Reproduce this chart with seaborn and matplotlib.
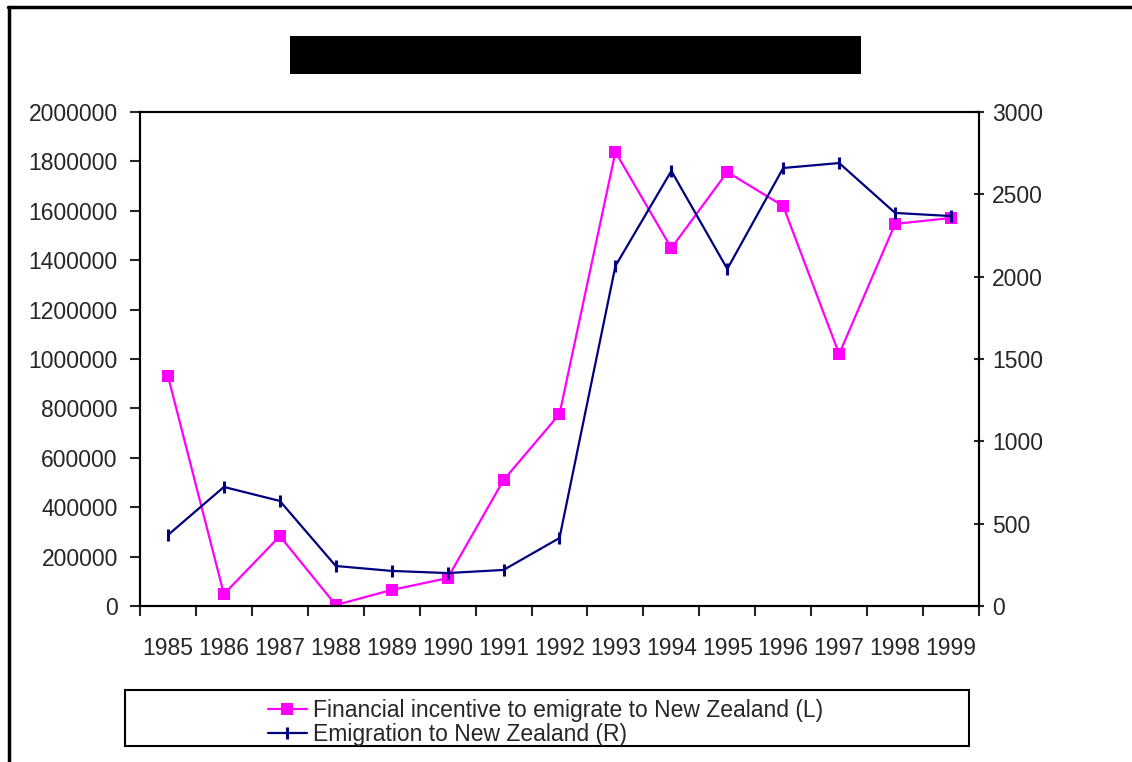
import matplotlib
matplotlib.use("Agg")
import matplotlib.pyplot as plt
import seaborn as sns
import pandas as pd
from matplotlib.patches import Rectangle
from matplotlib.lines import Line2D

years = [1985, 1986, 1987, 1988, 1989, 1990, 1991, 1992,
         1993, 1994, 1995, 1996, 1997, 1998, 1999]
incentive = [931000, 48000, 283000, 4000, 65000, 113000, 510000, 777000,
             1838000, 1449000, 1757000, 1619000, 1020000, 1547000, 1571000]
emigration = [431, 723, 638, 243, 213, 200, 219, 413,
              2065, 2642, 2047, 2660, 2690, 2387, 2368]

lab_l = 'Financial incentive to emigrate to New Zealand (L)'
lab_r = 'Emigration to New Zealand (R)'

df = pd.DataFrame({'year': years, 'incentive': incentive, 'emigration': emigration})

sns.set_style('ticks')
plt.rcParams['font.family'] = ['Liberation Sans', 'DejaVu Sans']

fig = plt.figure(figsize=(11.32, 7.62), dpi=100)
ax = fig.add_axes([140/1132, 1-606/762, 839/1132, 494/762])
ax2 = ax.twinx()

sns.lineplot(data=df, x='year', y='incentive', ax=ax, color='#FF00FF',
             marker='s', markersize=9, markeredgewidth=0, markeredgecolor='#FF00FF',
             linewidth=1.6, legend=False)
sns.lineplot(data=df, x='year', y='emigration', ax=ax2, color='#000080',
             marker='|', markersize=9, markeredgewidth=2.2, markeredgecolor='#000080',
             linewidth=1.6, legend=False)

ax.set_xlim(1984.5, 1999.5)
ax.set_ylim(0, 2000000)
ax2.set_ylim(0, 3000)
ax.set_yticks(range(0, 2000001, 200000))
ax.set_yticklabels([str(v) for v in range(0, 2000001, 200000)])
ax2.set_yticks(range(0, 3001, 500))

# category boundaries as ticks, year labels in between
ax.set_xticks([y - 0.5 for y in years] + [1999.5])
ax.set_xticklabels([])
ax.set_xticks(years, minor=True)
ax.set_xticklabels([str(y) for y in years], minor=True)
ax.tick_params(axis='x', which='minor', length=0, labelsize=16.5, pad=22)
ax.tick_params(axis='x', which='major', length=7, width=1.5, direction='out')
ax.tick_params(axis='y', length=7, width=1.5, labelsize=16.5, pad=9)
ax2.tick_params(axis='y', length=7, width=1.5, labelsize=16.5, direction='inout', pad=6)

for a in (ax, ax2):
    a.set_xlabel('')
    a.set_ylabel('')
    for s in a.spines.values():
        s.set_color('black')
        s.set_linewidth(1.5)

# redacted title block
fig.patches.append(Rectangle((290/1132, 1-74/762), 571/1132, 38/762,
                             transform=fig.transFigure, facecolor='black', edgecolor='none'))

# outer frame (left and top only)
fig.lines.append(Line2D([9/1132, 9/1132], [0, 1-7/762], transform=fig.transFigure,
                        color='black', linewidth=2.5))
fig.lines.append(Line2D([8/1132, 1], [1-7/762, 1-7/762], transform=fig.transFigure,
                        color='black', linewidth=2.5))

# legend box
fig.patches.append(Rectangle((125/1132, 1-746/762), 844/1132, 56/762,
                             transform=fig.transFigure, facecolor='white',
                             edgecolor='black', linewidth=1.5))
h1 = ax.lines[0]
h2 = ax2.lines[0]
fig.legend([h1, h2], [lab_l, lab_r], loc='upper left',
           bbox_to_anchor=(268/1132, 1-699/762), frameon=False, fontsize=16.5,
           handlelength=1.7, handletextpad=0.25, labelspacing=0.05,
           borderpad=0, borderaxespad=0)

fig.savefig('out.png', dpi=100, facecolor='white')
